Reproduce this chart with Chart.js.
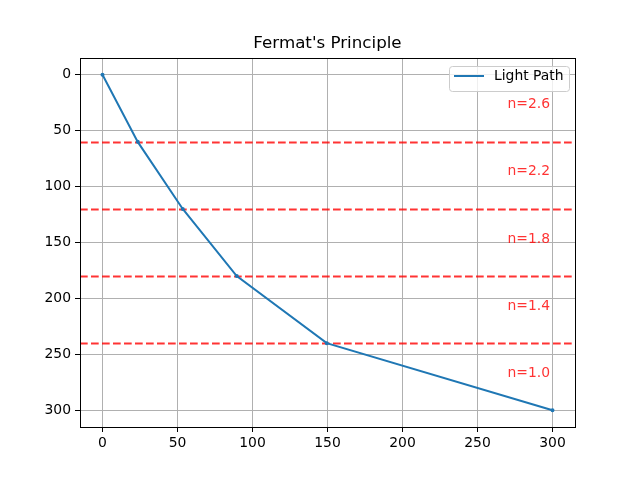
<!DOCTYPE html>
<html>
<head>
<meta charset="utf-8">
<script src="https://cdn.jsdelivr.net/npm/chart.js@4"></script>
<style>
  html, body { margin: 0; padding: 0; background: #fff; }
  #wrap { width: 640px; height: 480px; }
</style>
</head>
<body>
<div id="wrap"><canvas id="chart" width="640" height="480"></canvas></div>
<script>
// light path vertices (x, depth)
const pathX = [0, 23.5, 53.5, 89.5, 149.5, 300];
const pathY = [0, 60, 120, 180, 240, 300];

// layers of the medium
const boundaries = [60, 120, 180, 240];
const layerMid = [30, 90, 150, 210, 270];
const nValues = [2.6, 2.2, 1.8, 1.4, 1.0];
const labelX = 270;

const xTicks = [0, 50, 100, 150, 200, 250, 300];
const yTicks = [0, 50, 100, 150, 200, 250, 300];

const FONT = "'DejaVu Sans', sans-serif";
const RED = 'rgba(255, 0, 0, 0.8)';

const layersPlugin = {
  id: 'layers',
  beforeDatasetsDraw(chart) {
    const { ctx, chartArea, scales } = chart;
    ctx.save();
    ctx.strokeStyle = RED;
    ctx.lineWidth = 2;
    ctx.setLineDash([7.7, 3.3]);
    boundaries.forEach(b => {
      const py = Math.round(scales.y.getPixelForValue(b)) + 0.5;
      ctx.beginPath();
      ctx.moveTo(chartArea.left, py);
      ctx.lineTo(chartArea.right, py);
      ctx.stroke();
    });
    ctx.restore();
  },
  afterDatasetsDraw(chart) {
    const { ctx, chartArea, scales } = chart;
    ctx.save();
    // title
    ctx.fillStyle = '#000';
    ctx.font = '16.7px ' + FONT;
    ctx.textAlign = 'center';
    ctx.textBaseline = 'middle';
    ctx.fillText("Fermat's Principle", (chartArea.left + chartArea.right) / 2, 44);

    // labels for refractive index
    ctx.fillStyle = RED;
    ctx.font = '13.9px ' + FONT;
    ctx.textBaseline = 'alphabetic';
    ctx.textAlign = 'left';
    nValues.forEach((n, i) => {
      ctx.fillText('n=' + n.toFixed(1), scales.x.getPixelForValue(labelX), scales.y.getPixelForValue(layerMid[i]));
    });

    // frame
    ctx.strokeStyle = '#000';
    ctx.lineWidth = 1;
    ctx.strokeRect(Math.round(chartArea.left) + 0.5, Math.round(chartArea.top) + 0.5,
      Math.round(chartArea.right - chartArea.left), Math.round(chartArea.bottom - chartArea.top));

    // legend
    const bx = 449, by = 66, bw = 120, bh = 25;
    ctx.fillStyle = 'rgba(255,255,255,0.8)';
    ctx.strokeStyle = '#cccccc';
    ctx.beginPath();
    ctx.roundRect(bx + 0.5, by + 0.5, bw, bh, 3);
    ctx.fill();
    ctx.stroke();
    ctx.strokeStyle = '#1f77b4';
    ctx.lineWidth = 2;
    ctx.beginPath();
    ctx.moveTo(bx + 5, by + 10);
    ctx.lineTo(bx + 35, by + 10);
    ctx.stroke();
    ctx.fillStyle = '#1f77b4';
    ctx.beginPath();
    ctx.arc(bx + 20, by + 10, 1, 0, Math.PI * 2);
    ctx.fill();
    ctx.fillStyle = '#000';
    ctx.font = '13.9px ' + FONT;
    ctx.textAlign = 'left';
    ctx.textBaseline = 'middle';
    ctx.fillText(chart.data.datasets[0].label, bx + 45, by + 10);
    ctx.restore();
  }
};

new Chart(document.getElementById('chart'), {
  type: 'scatter',
  data: {
    datasets: [{
      label: 'Light Path',
      data: pathX.map((x, i) => ({ x: x, y: pathY[i] })),
      showLine: true,
      borderColor: '#1f77b4',
      backgroundColor: '#1f77b4',
      borderWidth: 2,
      pointRadius: 1,
      pointHoverRadius: 1,
      tension: 0
    }]
  },
  options: {
    responsive: false,
    animation: false,
    maintainAspectRatio: false,
    layout: { padding: { left: 0, right: 65, top: 58, bottom: 0 } },
    plugins: {
      legend: { display: false },
      tooltip: { enabled: false },
      title: { display: false }
    },
    scales: {
      x: {
        type: 'linear',
        min: -15,
        max: 315,
        afterBuildTicks: s => { s.ticks = xTicks.map(v => ({ value: v })); },
        afterFit: s => { s.height = 53; },
        grid: { color: '#b0b0b0', lineWidth: 1, tickColor: '#000', tickLength: 5 },
        border: { color: '#000', width: 1 },
        ticks: { color: '#000', font: { family: FONT, size: 13.9 }, padding: 3, maxRotation: 0 }
      },
      y: {
        type: 'linear',
        reverse: true,
        min: -15,
        max: 315,
        afterBuildTicks: s => { s.ticks = yTicks.map(v => ({ value: v })); },
        afterFit: s => { s.width = 80; },
        grid: { color: '#b0b0b0', lineWidth: 1, tickColor: '#000', tickLength: 5 },
        border: { color: '#000', width: 1 },
        ticks: { color: '#000', font: { family: FONT, size: 13.9 }, padding: 4 }
      }
    }
  },
  plugins: [layersPlugin]
});
</script>
</body>
</html>
